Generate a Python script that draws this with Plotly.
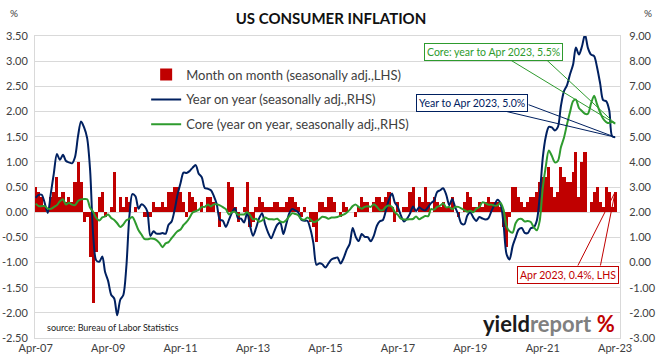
import plotly.graph_objects as go
import pandas as pd

# ---------------- data (monthly, Apr 2007 - Apr 2023) ----------------
dates = pd.date_range("2007-04-01", "2023-04-01", freq="MS").strftime("%Y-%m-%d").tolist()

mom = [
    0.5, 0.4, 0.3, 0.1, 0.0, 0.3, 0.4, 0.7, 0.3,                      # 2007 Apr-Dec
    0.4, 0.2, 0.3, 0.2, 0.6, 1.0, 0.6, -0.2, -0.1, -0.9, -1.8, -0.8,  # 2008
    0.3, 0.4, -0.1, 0.0, 0.1, 0.8, 0.0, 0.3, 0.1, 0.3, 0.2, 0.0,      # 2009
    0.1, 0.0, 0.0, -0.1, -0.1, -0.1, 0.2, 0.1, 0.1, 0.2, 0.1, 0.4,    # 2010
    0.4, 0.5, 0.5, 0.4, 0.2, -0.1, 0.4, 0.3, 0.2, 0.0, 0.2, 0.0,      # 2011
    0.3, 0.3, 0.2, 0.0, -0.3, 0.0, 0.0, 0.6, 0.5, 0.1, -0.2, 0.0,     # 2012
    0.1, 0.6, -0.3, -0.2, 0.1, 0.3, 0.2, 0.1, 0.1, 0.1, 0.2, 0.2,     # 2013
    0.1, 0.1, 0.2, 0.3, 0.3, 0.2, 0.1, -0.1, 0.1, 0.0, -0.2, -0.3,    # 2014
    -0.6, 0.2, 0.2, 0.1, 0.3, 0.3, 0.2, 0.0, -0.1, 0.2, 0.1, 0.0,     # 2015
    0.0, -0.1, 0.1, 0.3, 0.2, 0.2, 0.0, 0.2, 0.3, 0.3, 0.2, 0.3,      # 2016
    0.4, 0.1, -0.2, 0.2, 0.0, 0.1, 0.1, 0.4, 0.5, 0.0, 0.3, 0.2,      # 2017
    0.5, 0.2, 0.0, 0.3, 0.2, 0.1, 0.2, 0.1, 0.1, 0.3, 0.0, -0.1,      # 2018
    0.0, 0.2, 0.4, 0.3, 0.1, 0.1, 0.2, 0.1, 0.2, 0.3, 0.2, 0.2,       # 2019
    0.2, 0.1, -0.3, -0.7, -0.1, 0.5, 0.5, 0.3, 0.2, 0.1, 0.2, 0.3,    # 2020
    0.3, 0.4, 0.6, 0.7, 0.7, 0.9, 0.5, 0.3, 0.4, 0.9, 0.7, 0.6,       # 2021
    0.6, 0.8, 1.2, 0.3, 1.0, 1.2, 0.0, 0.2, 0.4, 0.5, 0.2, 0.1,       # 2022
    0.5, 0.4, 0.1, 0.4,                                               # 2023 Jan-Apr
]

yoy = [
    2.57, 2.69, 2.69, 2.36, 1.97, 2.76, 3.54, 4.31, 4.08,
    4.28, 4.03, 3.98, 3.94, 4.18, 5.02, 5.60, 5.37, 4.94, 3.66, 1.07, 0.09,
    0.03, 0.24, -0.38, -0.74, -1.28, -1.43, -2.10, -1.48, -1.29, -0.18, 1.84, 2.72,
    2.63, 2.14, 2.31, 2.24, 2.02, 1.05, 1.24, 1.15, 1.14, 1.17, 1.14, 1.50,
    1.63, 2.11, 2.68, 3.16, 3.57, 3.56, 3.63, 3.77, 3.87, 3.53, 3.39, 2.96,
    2.93, 2.87, 2.65, 2.30, 1.70, 1.66, 1.41, 1.69, 1.99, 2.16, 1.76, 1.74,
    1.59, 1.98, 1.47, 1.06, 1.36, 1.75, 1.96, 1.52, 1.18, 0.96, 1.24, 1.50,
    1.58, 1.13, 1.51, 1.95, 2.13, 2.07, 1.99, 1.70, 1.66, 1.66, 1.32, 0.76,
    -0.09, -0.03, -0.07, -0.20, -0.04, 0.12, 0.17, 0.20, -0.04, 0.17, 0.50, 0.73,
    1.37, 1.02, 0.85, 1.13, 1.02, 1.01, 0.84, 1.06, 1.46, 1.64, 1.69, 2.07,
    2.50, 2.74, 2.38, 2.20, 1.87, 1.63, 1.73, 1.94, 2.23, 2.04, 2.20, 2.11,
    2.07, 2.21, 2.36, 2.46, 2.80, 2.87, 2.95, 2.70, 2.28, 2.52, 2.18, 1.91,
    1.55, 1.52, 1.86, 2.00, 1.79, 1.65, 1.81, 1.75, 1.71, 1.76, 2.05, 2.29,
    2.49, 2.33, 1.54, 0.33, 0.12, 0.65, 0.99, 1.31, 1.37, 1.18, 1.17, 1.36,
    1.40, 1.68, 2.62, 4.16, 4.99, 5.39, 5.37, 5.25, 5.39, 6.22, 6.81, 7.04,
    7.48, 7.87, 8.54, 8.26, 8.58, 9.06, 8.52, 8.26, 8.20, 7.75, 7.11, 6.45,
    6.41, 6.04, 5.02, 4.98,
]

core = [
    2.34, 2.24, 2.24, 2.24, 2.14, 2.13, 2.20, 2.28, 2.43,
    2.51, 2.30, 2.37, 2.30, 2.28, 2.44, 2.51, 2.52, 2.51, 2.17, 2.01, 1.77,
    1.67, 1.79, 1.83, 1.91, 1.77, 1.69, 1.56, 1.41, 1.51, 1.68, 1.73, 1.81,
    1.58, 1.28, 1.12, 0.94, 0.92, 0.95, 0.94, 0.89, 0.77, 0.61, 0.76, 0.81,
    0.97, 1.12, 1.24, 1.31, 1.49, 1.61, 1.78, 1.99, 2.04, 2.09, 2.21, 2.21,
    2.30, 2.23, 2.31, 2.31, 2.27, 2.20, 2.12, 1.91, 2.00, 2.01, 1.90, 1.91,
    1.91, 2.00, 1.89, 1.71, 1.74, 1.62, 1.67, 1.79, 1.73, 1.72, 1.71, 1.74,
    1.63, 1.60, 1.68, 1.83, 1.96, 1.93, 1.88, 1.72, 1.70, 1.79, 1.71, 1.61,
    1.64, 1.73, 1.82, 1.80, 1.74, 1.79, 1.79, 1.81, 1.86, 1.90, 1.98, 2.09,
    2.24, 2.30, 2.21, 2.14, 2.21, 2.24, 2.21, 2.31, 2.21, 2.08, 2.08, 2.21,
    2.26, 2.21, 2.00, 1.89, 1.74, 1.71, 1.71, 1.72, 1.73, 1.83, 1.72, 1.78,
    1.85, 1.84, 2.12, 2.10, 2.21, 2.26, 2.35, 2.19, 2.21, 2.12, 2.21, 2.21,
    2.15, 2.08, 2.02, 2.06, 2.00, 2.14, 2.20, 2.39, 2.36, 2.30, 2.30, 2.26,
    2.27, 2.37, 2.10, 1.44, 1.24, 1.19, 1.56, 1.72, 1.73, 1.63, 1.65, 1.61,
    1.40, 1.28, 1.65, 2.96, 3.80, 4.45, 4.24, 3.98, 4.04, 4.58, 4.96, 5.48,
    5.98, 6.41, 6.47, 6.14, 6.02, 5.91, 5.91, 6.32, 6.63, 6.28, 5.96, 5.71,
    5.58, 5.54, 5.59, 5.52,
]

x_tick_vals = ["2007-04-01", "2009-04-01", "2011-04-01", "2013-04-01", "2015-04-01",
               "2017-04-01", "2019-04-01", "2021-04-01", "2023-04-01"]
x_tick_text = ["Apr-07", "Apr-09", "Apr-11", "Apr-13", "Apr-15",
               "Apr-17", "Apr-19", "Apr-21", "Apr-23"]
lhs_ticks = [-2.5 + 0.5 * i for i in range(13)]
rhs_ticks = [-3 + i for i in range(13)]

# ---------------- styles ----------------
FONT = "Lato, 'Open Sans', sans-serif"
RED = "#C00000"
NAVY = "#002060"
GREEN = "#2E9B2E"
GRID = "#D9D9D9"
TXT = "#404040"

fig = go.Figure()
fig.add_trace(go.Bar(
    x=dates, y=mom, name="Month on month (seasonally adj.,LHS)",
    marker=dict(color=RED, line=dict(width=0)), width=31 * 24 * 3600 * 1000,
    legendgroup="a", yaxis="y"))
fig.add_trace(go.Scatter(
    x=dates, y=yoy, name="Year on year (seasonally adj.,RHS)", mode="lines",
    line=dict(color=NAVY, width=2, shape="spline", smoothing=0.8),
    legendgroup="b", yaxis="y2"))
fig.add_trace(go.Scatter(
    x=dates, y=core, name="Core (year on year, seasonally adj.,RHS)", mode="lines",
    line=dict(color=GREEN, width=2, shape="spline", smoothing=0.8),
    legendgroup="c", yaxis="y2"))

anns = []
end_x = dates[-1]
# leader lines (drawn first, boxes go on top)
for ax_, ay_ in [(-107, -65), (-70, -65)]:
    anns.append(dict(x=end_x, y=core[-1], xref="x", yref="y2", text="", showarrow=True,
                     ax=ax_, ay=ay_, arrowhead=0, arrowwidth=1, arrowcolor=GREEN))
for ax_, ay_ in [(-110, -26), (-88, -33)]:
    anns.append(dict(x=end_x, y=yoy[-1], xref="x", yref="y2", text="", showarrow=True,
                     ax=ax_, ay=ay_, arrowhead=0, arrowwidth=1, arrowcolor=NAVY))
for ax_, ay_ in [(-38, 75), (-15, 75)]:
    anns.append(dict(x=end_x, y=mom[-1], xref="x", yref="y", text="", showarrow=True,
                     ax=ax_, ay=ay_, arrowhead=0, arrowwidth=1, arrowcolor=RED))

def box(text, x, y, color):
    return dict(text=text, x=x, y=y, xref="paper", yref="paper", showarrow=False,
                xanchor="center", yanchor="middle", font=dict(family=FONT, size=10.5, color=color),
                bgcolor="white", bordercolor=color, borderwidth=1, borderpad=2)

anns.append(box(f"Core: year to Apr 2023, {core[-1]:.1f}%", 0.7846, 0.947, GREEN))
anns.append(box(f"Year to Apr 2023, {yoy[-1]:.1f}%", 0.747, 0.778, NAVY))
anns.append(box(f"Apr 2023, {mom[-1]:.1f}%, LHS", 0.911, 0.2086, RED))

anns.append(dict(text="%", x=-0.036, y=1.076, xref="paper", yref="paper", showarrow=False,
                 xanchor="center", yanchor="middle", font=dict(family=FONT, size=10, color=TXT)))
anns.append(dict(text="%", x=1.048, y=1.076, xref="paper", yref="paper", showarrow=False,
                 xanchor="center", yanchor="middle", font=dict(family=FONT, size=10, color=TXT)))
anns.append(dict(text="source: Bureau of Labor Statistics", x=0.017, y=0.0364,
                 xref="paper", yref="paper", showarrow=False, xanchor="left", yanchor="middle",
                 font=dict(family=FONT, size=9, color="#222222")))
anns.append(dict(text="<b>yield</b><b><span style='color:#808080'>report</span></b> "
                      "<b><span style='color:#C00000'>%</span></b>",
                 x=0.995, y=0.047, xref="paper", yref="paper", showarrow=False,
                 xanchor="right", yanchor="middle",
                 font=dict(family=FONT, size=22, color="#1a1a1a")))

fig.update_layout(
    width=662, height=363,
    margin=dict(l=35, r=42, t=36, b=25, autoexpand=False),
    paper_bgcolor="white", plot_bgcolor="white",
    font=dict(family=FONT, size=11, color=TXT),
    title=dict(text="<b>US CONSUMER INFLATION</b>", x=0.5, xanchor="center",
               y=0.948, yanchor="middle", font=dict(family=FONT, size=15, color="#111111")),
    bargap=0,
    showlegend=True,
    legend=dict(x=0.19, y=0.922, xanchor="left", yanchor="top", bgcolor="rgba(0,0,0,0)",
                tracegroupgap=5, font=dict(family=FONT, size=13, color=TXT), itemwidth=30),
    xaxis=dict(type="date", range=["2007-03-25", "2023-05-20"], tickmode="array",
               tickvals=x_tick_vals, ticktext=x_tick_text, showgrid=False, automargin=False,
               showline=True, linecolor=GRID, mirror=True, ticks="",
               tickfont=dict(family=FONT, size=11, color=TXT)),
    yaxis=dict(range=[-2.5, 3.5], tickmode="array", tickvals=lhs_ticks, automargin=False,
               ticktext=[f"{v:.2f}" for v in lhs_ticks], showgrid=True, gridcolor=GRID,
               gridwidth=1, zeroline=False, showline=True, linecolor=GRID, ticks="",
               ticklabelstandoff=4, tickfont=dict(family=FONT, size=11, color=TXT)),
    yaxis2=dict(range=[-3, 9], overlaying="y", side="right", tickmode="array", automargin=False,
                tickvals=rhs_ticks, ticktext=[f"{v:.2f}" for v in rhs_ticks],
                showgrid=False, zeroline=False, showline=True, linecolor=GRID, ticks="",
                ticklabelstandoff=6, tickfont=dict(family=FONT, size=11, color=TXT)),
    annotations=anns,
)

fig.write_html("out.html", config={"displayModeBar": False},
               post_script="document.body.style.margin='0';")
